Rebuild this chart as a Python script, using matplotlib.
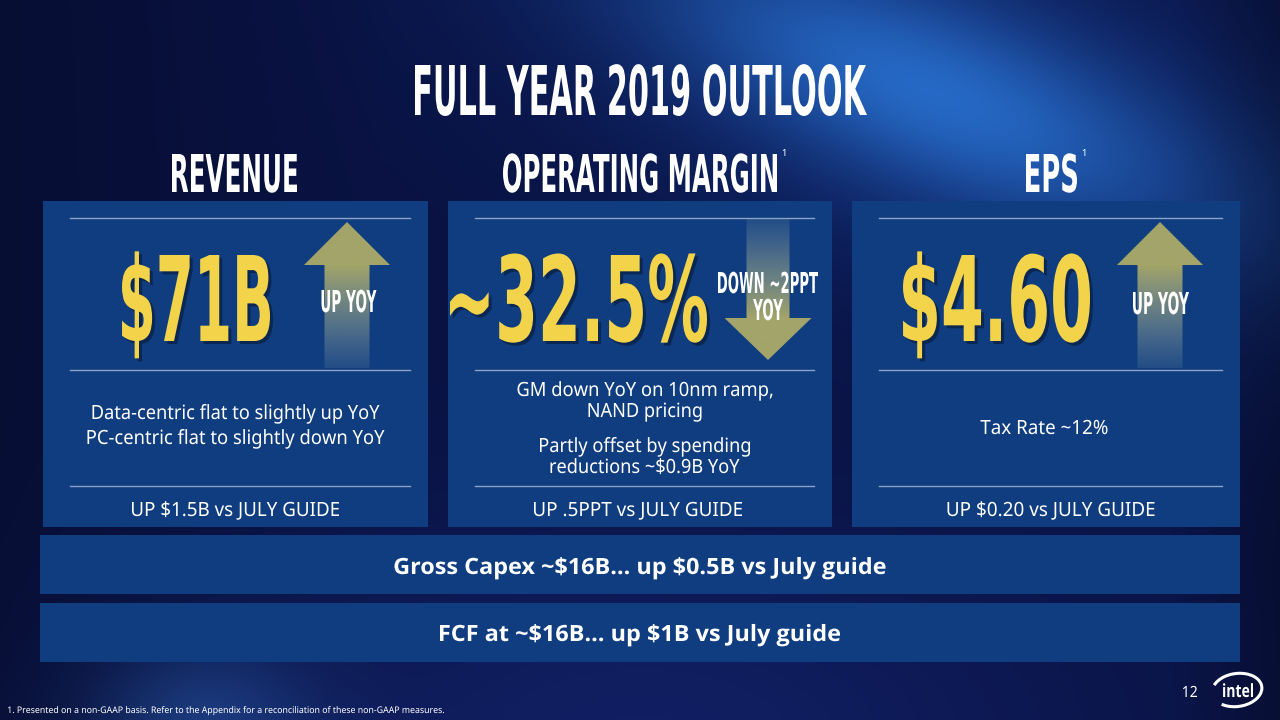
import numpy as np
import matplotlib
matplotlib.use('Agg')
import matplotlib.pyplot as plt
from matplotlib.patches import Rectangle, Polygon, PathPatch, Arc
from matplotlib.textpath import TextPath
from matplotlib.font_manager import FontProperties, findfont
from matplotlib.transforms import Affine2D

# slide content
title = 'FULL YEAR 2019 OUTLOOK'
headers = ['REVENUE', 'OPERATING MARGIN', 'EPS']
header_notes = ['', '1', '1']
big_values = ['$71B', '~32.5%', '$4.60']
trends = [['UP YOY'], ['DOWN ~2PPT', 'YOY'], ['UP YOY']]
trend_dir = ['up', 'down', 'up']
notes = [['Data-centric flat to slightly up YoY', 'PC-centric flat to slightly down YoY'],
         ['GM down YoY on 10nm ramp,', 'NAND pricing', 'Partly offset by spending', 'reductions ~$0.9B YoY'],
         ['Tax Rate ~12%']]
guides = ['UP $1.5B vs JULY GUIDE', 'UP .5PPT vs JULY GUIDE', 'UP $0.20 vs JULY GUIDE']
bars = ['Gross Capex ~$16B\u2026 up $0.5B vs July guide', 'FCF at ~$16B\u2026 up $1B vs July guide']
footnote = '1. Presented on a non-GAAP basis. Refer to the Appendix for a reconciliation of these non-GAAP measures.'
page = '12'

# pick a sans family that really has a bold face
bold_family = 'DejaVu Sans'
for fam in ['Noto Sans', 'Open Sans', 'Lato', 'Roboto']:
    f = findfont(FontProperties(family=fam, weight='bold'), fallback_to_default=False)
    if f and 'bold' in f.lower():
        bold_family = fam
        break

W, H = 1280, 720
fig = plt.figure(figsize=(12.8, 7.2), dpi=100)
ax = fig.add_axes([0, 0, 1, 1])
ax.set_axis_off()

# background: dark navy with a diagonal light band top right
yy, xx = np.mgrid[0:H:4, 0:W:4].astype(float)
base = np.array([9, 18, 66]) / 255
ang = np.deg2rad(22)
u = (xx - 930) * np.cos(ang) + (yy - 90) * np.sin(ang)
v = -(xx - 930) * np.sin(ang) + (yy - 90) * np.cos(ang)
g1 = np.exp(-((u / 300) ** 2 + (v / 95) ** 2))
g1b = np.exp(-((u / 420) ** 2 + (v / 200) ** 2))
g2 = np.exp(-(((xx - 640) / 450) ** 2 + ((yy - 740) / 220) ** 2))
g3 = np.exp(-(((xx - 200) / 110) ** 2 + ((yy - 720) / 80) ** 2))
dark = np.clip(1 - xx / 380, 0, 1) * 0.35 + np.clip((xx - 1170) / 110, 0, 1) * 0.45
bg = base[None, None, :] * (1 - dark[..., None] * 0.6)
bg = bg + (np.array([40, 110, 190]) / 255 - base)[None, None, :] * g1[..., None] * 0.7
bg = bg + (np.array([20, 55, 140]) / 255 - base)[None, None, :] * g1b[..., None] * 0.6
bg = bg + (np.array([22, 40, 120]) / 255 - base)[None, None, :] * g2[..., None] * 0.6
bg = bg + (np.array([40, 90, 170]) / 255 - base)[None, None, :] * g3[..., None] * 0.5
ax.imshow(np.clip(bg, 0, 1), extent=(0, W, H, 0), aspect='auto', interpolation='bilinear', zorder=0)


def draw_text(s, x, base_y, cap, width=None, family='Noto Sans', weight='normal',
              color='white', ha='center', shadow=False, z=5):
    s = s.replace('$', r'\$')
    fp = FontProperties(family=family, weight=weight)
    tp = TextPath((0, 0), s, size=100, prop=fp)
    capref = TextPath((0, 0), 'H', size=100, prop=fp).get_extents().height
    sy = cap / capref
    bb = tp.get_extents()
    sx = width / bb.width if width else sy
    if ha == 'center':
        tx = x - sx * (bb.x0 + bb.x1) / 2
    else:
        tx = x - sx * bb.x0
    tr = Affine2D().scale(sx, -sy).translate(tx, base_y)
    if shadow:
        sh = PathPatch(tr.transform_path(tp), facecolor='black', edgecolor='none',
                       alpha=0.35, zorder=z - 0.5)
        sh.set_transform(Affine2D().translate(3, 3) + ax.transData)
        ax.add_patch(sh)
    ax.add_patch(PathPatch(tr.transform_path(tp), facecolor=color, edgecolor='none', zorder=z))


def grad_arrow(cx, y_tip, y_head, y_end, head_w, shaft_w):
    verts = [(cx, y_tip), (cx + head_w / 2, y_head), (cx + shaft_w / 2, y_head),
             (cx + shaft_w / 2, y_end), (cx - shaft_w / 2, y_end), (cx - shaft_w / 2, y_head),
             (cx - head_w / 2, y_head)]
    poly = Polygon(verts, closed=True, facecolor='none', edgecolor='none')
    ax.add_patch(poly)
    y0, y1 = min(y_tip, y_end), max(y_tip, y_end)
    n = 200
    ys = np.linspace(y0, y1, n)
    solid = np.array([172, 170, 104]) / 255
    pale = np.array([150, 170, 175]) / 255
    t = np.clip((ys - y_head) / (y_end - y_head), 0, 1)
    rgba = np.zeros((n, 1, 4))
    rgba[:, 0, :3] = solid[None, :] * (1 - t[:, None]) + pale[None, :] * t[:, None]
    rgba[:, 0, 3] = 0.95 - 0.8 * t
    im = ax.imshow(rgba, extent=(cx - head_w / 2, cx + head_w / 2, y1, y0), aspect='auto',
                   interpolation='bilinear', zorder=3)
    im.set_clip_path(poly)


# title
draw_text(title, 641, 115, 50, width=452, family='DejaVu Sans', weight='bold')

panel_x = [(43, 428), (448, 832), (852, 1240)]
panel_c = [(a + b) / 2 for a, b in panel_x]
header_span = [(172, 297), (503, 777), (1026, 1077)]
value_span = [(122, 270), (450, 707), (903, 1090)]
line_col = '#8aa3c9'
panel_col = '#0f3d7f'

for i in range(3):
    x0, x1 = panel_x[i]
    ax.add_patch(Rectangle((x0, 201), x1 - x0, 326, facecolor=panel_col, edgecolor='none', zorder=1))
    hx0, hx1 = header_span[i]
    draw_text(headers[i], (hx0 + hx1) / 2, 192, 38, width=hx1 - hx0, family='DejaVu Sans', weight='bold')
    if header_notes[i]:
        draw_text(header_notes[i], hx1 + 7, 156, 7, family='Noto Sans')
    for yl in (218, 370, 486):
        ax.plot([x0 + 27, x1 - 18], [yl, yl], color=line_col, lw=1, zorder=2)
    vx0, vx1 = value_span[i]
    draw_text(big_values[i], (vx0 + vx1) / 2, 341, 86, width=vx1 - vx0, family='DejaVu Sans',
              weight='bold', color='#f3d34a', shadow=True)
    draw_text(guides[i], panel_c[i] + (5 if i == 2 else 0) - (2 if i == 1 else 0), 516, 14,
              width=[207, 208, 207][i])

# arrows and trend labels
arrow_cx = [347, 768, 1160]
for i, d in enumerate(trend_dir):
    if d == 'up':
        grad_arrow(arrow_cx[i], 222, 265, 368, 86, 45)
    else:
        grad_arrow(arrow_cx[i], 360, 318, 219, 87, 43)
draw_text(trends[0][0], 349, 312, 22, width=55, family='DejaVu Sans', weight='bold')
draw_text(trends[1][0], 768, 293, 21, width=100, family='DejaVu Sans', weight='bold')
draw_text(trends[1][1], 768, 320, 21, width=30, family='DejaVu Sans', weight='bold')
draw_text(trends[2][0], 1161, 314, 22, width=56, family='DejaVu Sans', weight='bold')

# panel notes
draw_text(notes[0][0], 236, 419, 14, width=287)
draw_text(notes[0][1], 236, 444, 14, width=297)
draw_text(notes[1][0], 645, 396, 14, width=255)
draw_text(notes[1][1], 645, 417, 14, width=113)
draw_text(notes[1][2], 645, 452, 14, width=210)
draw_text(notes[1][3], 645, 473, 14, width=189)
draw_text(notes[2][0], 1044, 434, 14, width=127)

# bottom bars
for j, (ytop, base_y, wd) in enumerate([(535, 574, 491), (603, 641, 400)]):
    ax.add_patch(Rectangle((40, ytop), 1200, 59, facecolor=panel_col, edgecolor='none', zorder=1))
    draw_text(bars[j], 640, base_y, 16, width=wd, family=bold_family, weight='bold')

# footer
draw_text(footnote, 8, 713, 6.5, width=436, ha='left')
draw_text(page, 1190, 697, 11, width=14)
ax.add_patch(Arc((1237, 690), 50, 33, angle=-8, theta1=-160, theta2=145, color='white', lw=2.2, zorder=5))
draw_text('intel', 1238, 697, 13, width=30, family=bold_family, weight='bold')

ax.set_xlim(0, W)
ax.set_ylim(H, 0)
fig.savefig('out.png', dpi=100)
